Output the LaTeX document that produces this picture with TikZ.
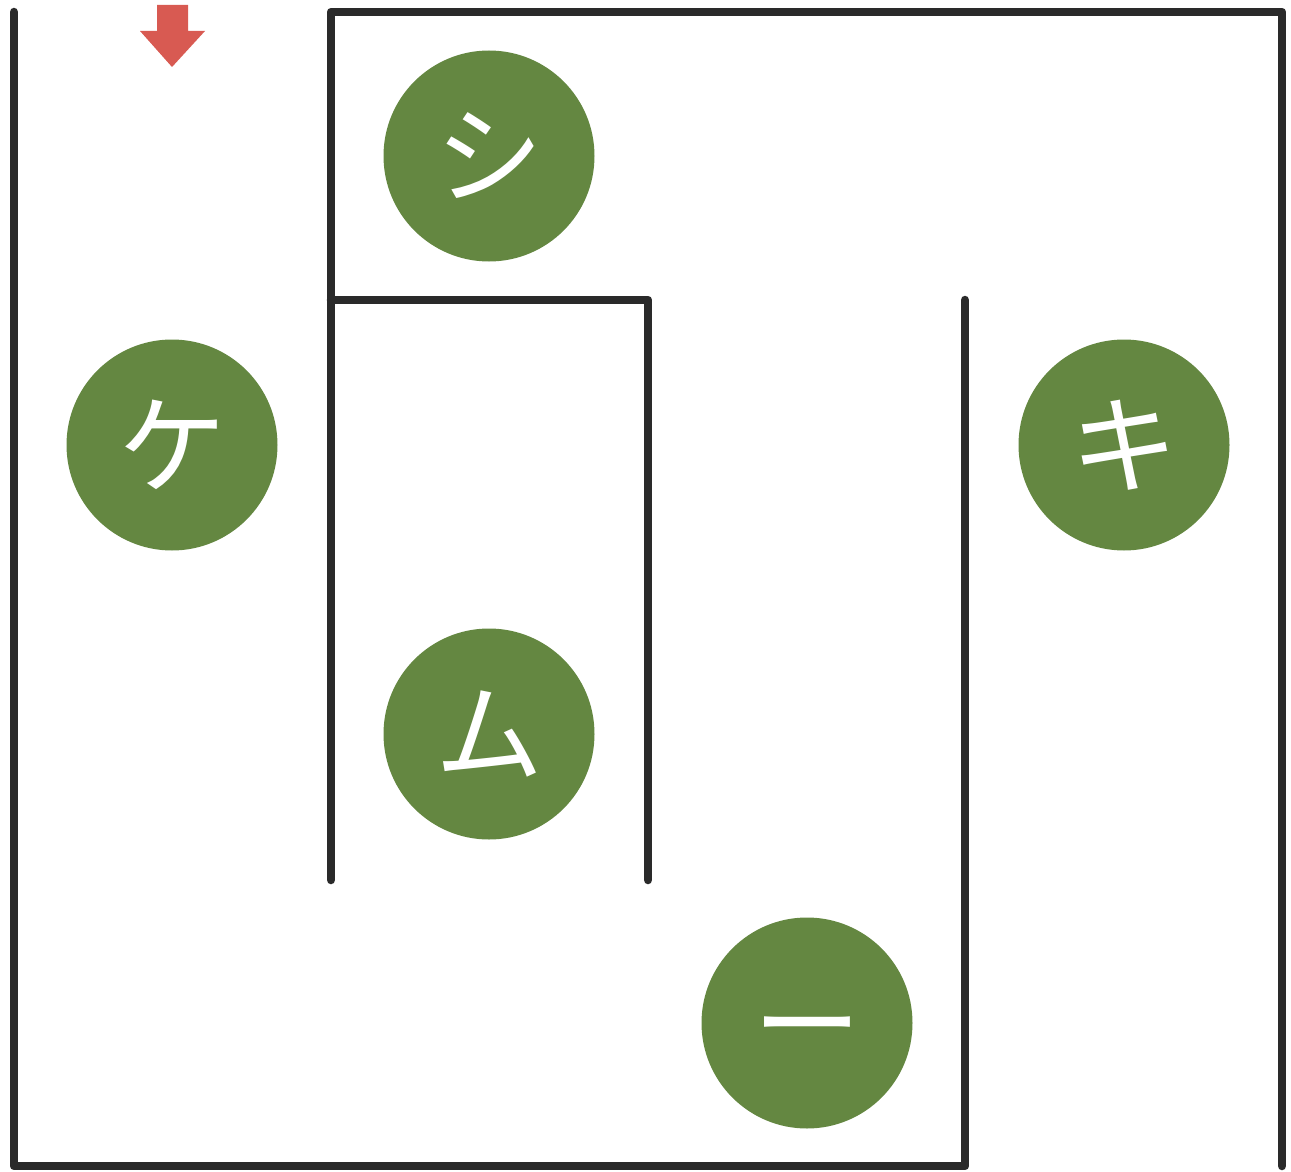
\documentclass[tikz,border=0pt]{standalone}
\usepackage{fontspec}
\newfontfamily\cjk{Noto Sans CJK JP}
\definecolor{wallc}{HTML}{2A2A2A}
\definecolor{ballc}{HTML}{648741}
\definecolor{arrowc}{HTML}{D85A52}
\begin{document}
\begin{tikzpicture}[x=1pt,y=-1pt,
  wall/.style={draw=wallc,line width=8.5pt,line cap=round,line join=round},
  ball/.style={circle,fill=ballc,minimum size=211pt,inner sep=0pt,text=white,font=\cjk\fontsize{108}{108}\selectfont}]
\useasboundingbox (0,0) rectangle (1291,1172);
% walls
\draw[wall] (14,12) -- (14,1166) -- (965,1166) -- (965,300);
\draw[wall] (331,880) -- (331,12) -- (1282,12) -- (1282,1166);
\draw[wall] (331,300) -- (648,300) -- (648,880);
% entry arrow
\fill[arrowc] (157,5) -- (188,5) -- (188,31) -- (205,31) -- (172,67) -- (140,31) -- (157,31) -- cycle;
% balls
\node[ball] (shi) at (489,156) {シ};
\node[ball] (ke) at (172,445) {ケ};
\node[ball] (ki) at (1124,445) {キ};
\node[ball] (mu) at (489,734) {ム};
\node[ball] (cho) at (807,1023) {};
\node[text=white,font=\cjk\fontsize{108}{108}\selectfont,inner sep=0pt] (chotext) at ([yshift=-17pt]cho.center) {ー};
\end{tikzpicture}
\end{document}
